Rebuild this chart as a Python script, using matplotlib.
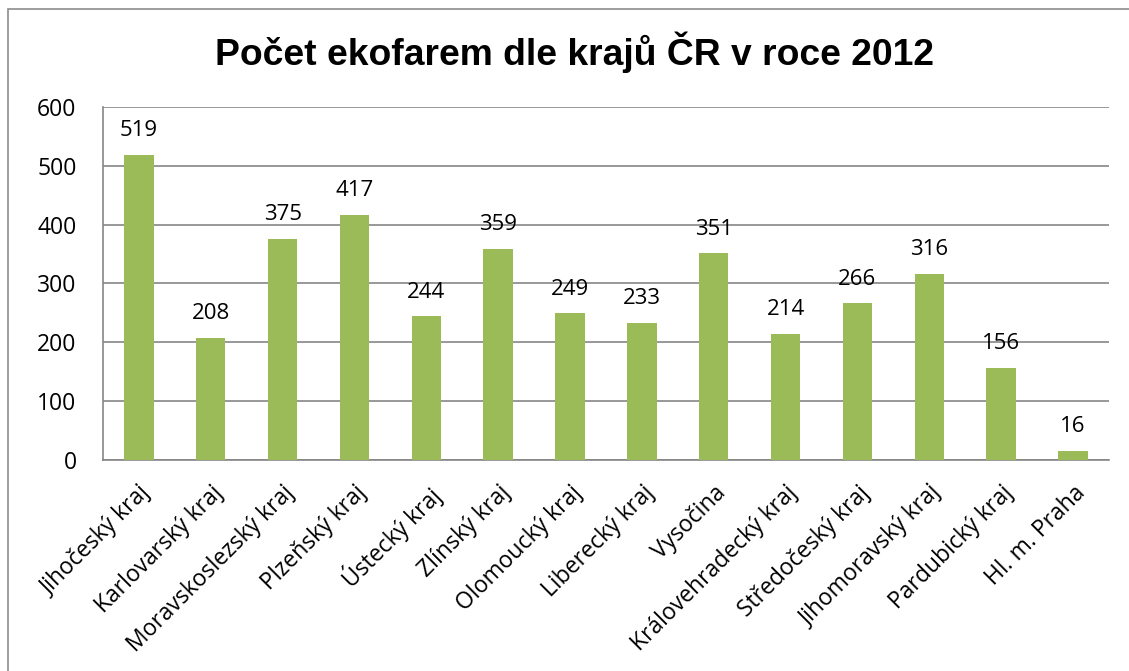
import matplotlib
matplotlib.use('Agg')
from matplotlib import pyplot as plt
from matplotlib.patches import Rectangle

regions = ['Jihočeský kraj', 'Karlovarský kraj', 'Moravskoslezský kraj', 'Plzeňský kraj',
           'Ústecký kraj', 'Zlínský kraj', 'Olomoucký kraj', 'Liberecký kraj', 'Vysočina',
           'Královehradecký kraj', 'Středočeský kraj', 'Jihomoravský kraj',
           'Pardubický kraj', 'Hl. m. Praha']
farms = [519, 208, 375, 417, 244, 359, 249, 233, 351, 214, 266, 316, 156, 16]
yticks = [0, 100, 200, 300, 400, 500, 600]

bar_color = '#9BBB59'
grid_color = '#868686'
label_font = 'Open Sans'

fig = plt.figure(figsize=(11.29, 6.71), dpi=100)
ax = fig.add_axes([0.0912, 0.3145, 0.891, 0.526])

x = list(range(len(regions)))
bars = ax.bar(x, farms, width=0.41, color=bar_color, zorder=3)
ax.bar_label(bars, labels=[str(v) for v in farms], padding=10,
             fontsize=16, family=label_font, zorder=4)

ax.set_xlim(-0.5, len(regions) - 0.5)
ax.set_ylim(0, 600)
ax.set_yticks(yticks)
ax.set_yticklabels([str(t) for t in yticks], fontsize=16.5, family=label_font)
ax.set_xticks(x)
ax.set_xticklabels(regions, rotation=45, ha='right', rotation_mode='anchor',
                   fontsize=16.5, family=label_font)
ax.tick_params(axis='both', length=0)
ax.tick_params(axis='y', pad=19)
ax.tick_params(axis='x', pad=15)

ax.grid(axis='y', color=grid_color, linewidth=1.2, zorder=0)
for side in ['top', 'right']:
    ax.spines[side].set_visible(False)
for side in ['left', 'bottom']:
    ax.spines[side].set_color(grid_color)
    ax.spines[side].set_linewidth(1.2)

fig.text(0.509, 0.922, 'Počet ekofarem dle krajů ČR v roce 2012', ha='center', va='center',
         fontsize=26.8, fontweight='bold', family='Liberation Sans')

# outer chart border
fig.patches.append(Rectangle((8 / 1129, -0.1), 1.2, 1 - 9 / 671 + 0.1,
                             transform=fig.transFigure, fill=False,
                             edgecolor='#8c8c8c', linewidth=1.2))

plt.savefig('out.png', dpi=100)
